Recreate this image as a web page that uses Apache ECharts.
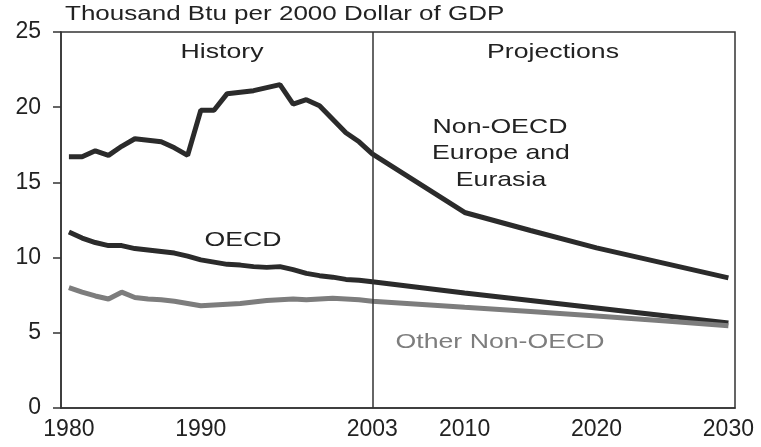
<!DOCTYPE html>
<html>
<head>
<meta charset="utf-8">
<script src="https://cdn.jsdelivr.net/npm/echarts@6/dist/echarts.min.js"></script>
<style>
  html, body { margin: 0; padding: 0; background: #fff; }
  #chart { width: 761px; height: 447px; }
</style>
</head>
<body>
<div id="chart"></div>
<script>
// Years and values
const histYears = [1980, 1981, 1982, 1983, 1984, 1985, 1986, 1987, 1988, 1989, 1990, 1991,
                   1992, 1993, 1994, 1995, 1996, 1997, 1998, 1999, 2000, 2001, 2002, 2003];
const projYears = [2010, 2015, 2020, 2025, 2030];

const eurasiaHist = [16.7, 16.7, 17.1, 16.8, 17.4, 17.9, 17.8, 17.7, 17.3, 16.8, 19.8, 19.8,
                     20.9, 21.0, 21.1, 21.3, 21.5, 20.2, 20.5, 20.1, 19.2, 18.3, 17.7, 16.9];
const eurasiaProj = [13.0, 11.8, 10.65, 9.65, 8.65];

const oecdHist = [11.7, 11.3, 11.0, 10.8, 10.8, 10.6, 10.5, 10.4, 10.3, 10.1, 9.85, 9.7,
                  9.55, 9.5, 9.4, 9.35, 9.4, 9.2, 8.95, 8.8, 8.7, 8.55, 8.5, 8.4];
const oecdProj = [7.65, 7.15, 6.65, 6.15, 5.65];

const otherHist = [8.0, 7.7, 7.45, 7.25, 7.7, 7.35, 7.25, 7.2, 7.1, 6.95, 6.8, 6.85,
                   6.9, 6.95, 7.05, 7.15, 7.2, 7.25, 7.2, 7.25, 7.3, 7.25, 7.2, 7.1];
const otherProj = [6.7, 6.42, 6.12, 5.8, 5.47];

const xTickLabels = [1980, 1990, 2003, 2010, 2020, 2030];
const splitYear = 2003;

function pairs(hist, proj) {
    const out = histYears.map((y, i) => [y, hist[i]]);
    projYears.forEach((y, i) => out.push([y, proj[i]]));
    return out;
}

const FONT = '"Liberation Sans", Arial, sans-serif';
const DARK = '#2b2b2b';
const GRAY = '#7d7d7d';

// annotation text, stretched a bit wider like the scanned original
function note(text, x, y, color) {
    return {
        type: 'text', x: x, y: y, scaleX: 1.27,
        style: {
            text: text, fill: color || '#222', font: '21px ' + FONT,
            align: 'center', verticalAlign: 'middle',
            textAlign: 'center', textVerticalAlign: 'middle'
        }
    };
}

const chart = echarts.init(document.getElementById('chart'));

const option = {
    animation: false,
    backgroundColor: '#fff',
    grid: {
        left: 61, right: 26, top: 32, bottom: 39,
        show: true, borderColor: '#333', borderWidth: 1.5
    },
    xAxis: {
        type: 'value', min: 1979.4, max: 2030.5,
        axisLine: { show: true, lineStyle: { color: '#333', width: 1.5 } },
        axisTick: { show: false },
        splitLine: { show: false },
        axisLabel: {
            customValues: xTickLabels,
            fontSize: 23, fontFamily: FONT, color: '#222', margin: 10,
            formatter: v => String(v)
        }
    },
    yAxis: {
        type: 'value', min: 0, max: 25, interval: 5,
        axisLine: { show: true, lineStyle: { color: '#333', width: 1.5 } },
        axisTick: { show: true, inside: false, length: 8, lineStyle: { color: '#333', width: 1.5 } },
        splitLine: { show: false },
        axisLabel: { fontSize: 23, fontFamily: FONT, color: '#222', margin: 20 }
    },
    series: [
        {
            name: 'Non-OECD Europe and Eurasia', type: 'line',
            data: pairs(eurasiaHist, eurasiaProj),
            showSymbol: false, lineStyle: { color: DARK, width: 5 },
            markLine: {
                silent: true, symbol: ['none', 'none'], label: { show: false },
                lineStyle: { color: '#333', width: 1.5, type: 'solid' },
                data: [{ xAxis: splitYear }]
            }
        },
        {
            name: 'OECD', type: 'line',
            data: pairs(oecdHist, oecdProj),
            showSymbol: false, lineStyle: { color: DARK, width: 5 }
        },
        {
            name: 'Other Non-OECD', type: 'line',
            data: pairs(otherHist, otherProj),
            showSymbol: false, lineStyle: { color: GRAY, width: 5 }
        }
    ],
    graphic: [
        {
            type: 'text', x: 65, y: 14, scaleX: 1.3,
            style: {
                text: 'Thousand Btu per 2000 Dollar of GDP', fill: '#222', font: '20px ' + FONT,
                align: 'left', verticalAlign: 'middle',
                textAlign: 'left', textVerticalAlign: 'middle'
            }
        },
        note('History', 222, 52),
        note('Projections', 553, 52),
        note('Non-OECD', 500, 127),
        note('Europe and', 501, 153),
        note('Eurasia', 501, 180),
        note('OECD', 243, 240),
        note('Other Non-OECD', 500, 342, GRAY)
    ]
};

chart.setOption(option);
window.addEventListener('resize', () => chart.resize());
</script>
</body>
</html>
